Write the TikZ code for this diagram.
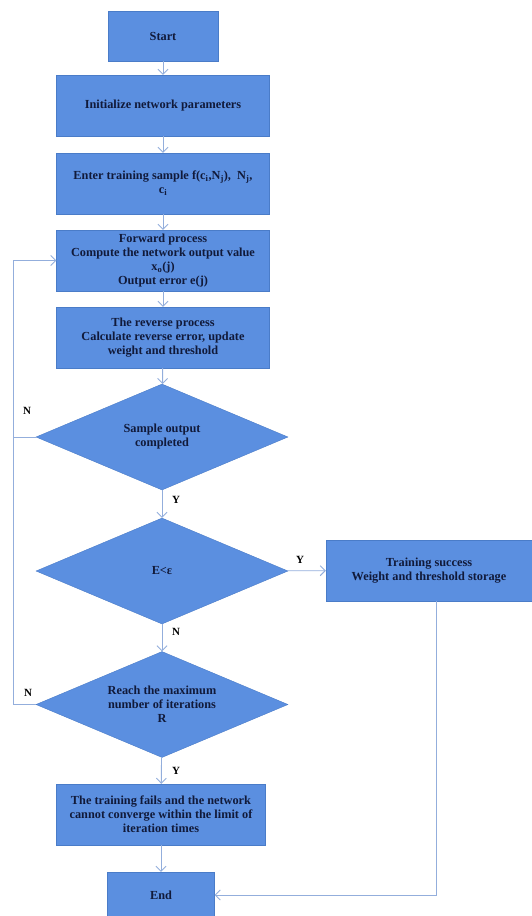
\documentclass[tikz,border=0pt]{standalone}
\usepackage{fontspec}
\setmainfont{Liberation Serif}
\usetikzlibrary{shapes.geometric,arrows.meta}
\definecolor{boxfill}{HTML}{5B8FE0}
\definecolor{boxline}{HTML}{4A7CC8}
\definecolor{flowline}{HTML}{93AEDC}
\definecolor{boxtext}{HTML}{111A3A}
\tikzset{
  stepbox/.style={rectangle,draw=boxline,fill=boxfill,text=boxtext,
    font=\fontsize{12.3}{14}\selectfont\bfseries,align=center,inner sep=2pt},
  choice/.style={diamond,draw=boxline,fill=boxfill,text=boxtext,
    font=\fontsize{12.3}{14}\selectfont\bfseries,align=center,inner sep=0pt,
    aspect=2.4,minimum width=252pt,minimum height=106pt},
  flow/.style={draw=flowline,line width=0.9pt,-{Straight Barb[length=5pt,width=10pt]}},
  yn/.style={font=\fontsize{11}{13}\selectfont\bfseries,text=black}
}
\begin{document}
\begin{tikzpicture}[x=1pt,y=-1pt]
\useasboundingbox (0,0) rectangle (532,916);
\node[stepbox,minimum width=110pt,minimum height=50pt] (start) at (163,36) {Start};
\node[stepbox,minimum width=213pt,minimum height=61pt] (init) at (163,105.5) {Initialize network parameters};
\node[stepbox,minimum width=213pt,minimum height=61pt] (enter) at (163,183.5)
  {Enter training sample f(c\textsubscript{i},N\textsubscript{j}),\ \ N\textsubscript{j},\\c\textsubscript{i}};
\node[stepbox,minimum width=213pt,minimum height=61pt] (fwd) at (163,260.5)
  {Forward process\\Compute the network output value\\x\textsubscript{o}(j)\\Output error e(j)};
\node[stepbox,minimum width=213pt,minimum height=61pt] (rev) at (163,337.5)
  {The reverse process\\Calculate reverse error, update\\weight and threshold};
\node[choice] (done) at (162,437) {Sample output\\completed};
\node[choice] (err) at (162,571) {E<ε};
\node[stepbox,minimum width=206pt,minimum height=61pt] (succ) at (429,570.5)
  {Training success\\Weight and threshold storage};
\node[choice] (iter) at (162,704.5) {Reach the maximum\\number of iterations\\R};
\node[stepbox,minimum width=209pt,minimum height=61pt] (fail) at (161,814.5)
  {The training fails and the network\\cannot converge within the limit of\\iteration times};
\node[stepbox,minimum width=107pt,minimum height=46pt] (end) at (161,895) {End};

\coordinate (loop) at (13,437);
\coordinate (down) at (436,895);

\draw[flow] (start) -- (init);
\draw[flow] (init) -- (enter);
\draw[flow] (enter) -- (fwd);
\draw[flow] (fwd) -- (rev);
\draw[flow] (rev) -- (done);
\draw[flow] (done) -- (err);
\draw[flow] (err) -- (succ);
\draw[flow] (err) -- (iter);
\draw[flow] (iter) -- (fail);
\draw[flow] (fail) -- (end);
\draw[flow] (done.west) -- (loop) |- (fwd.west);
\draw[draw=flowline,line width=0.9pt] (iter.west) -| (loop);
\draw[flow] (succ.south -| down) -- (down) -- (end.east);

\node[yn] at (27,411) {N};
\node[yn] at (28,693) {N};
\node[yn] at (176,500) {Y};
\node[yn] at (300,560) {Y};
\node[yn] at (176,632) {N};
\node[yn] at (176,771) {Y};
\end{tikzpicture}
\end{document}
